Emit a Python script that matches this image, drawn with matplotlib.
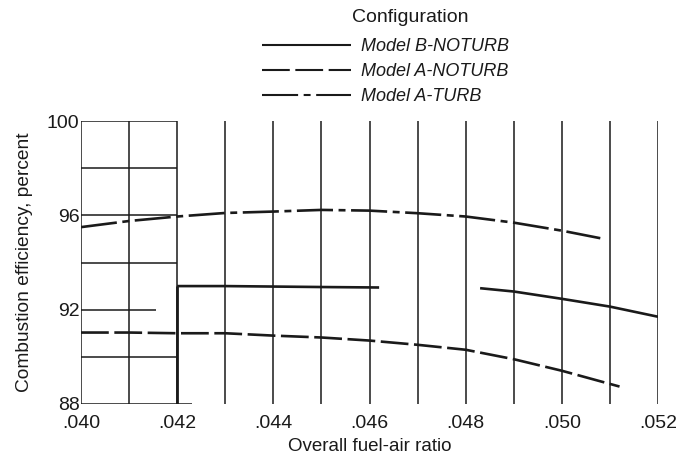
import numpy as np
import matplotlib
matplotlib.use("Agg")
import matplotlib.pyplot as plt

plt.rcParams["font.family"] = ["Liberation Sans", "DejaVu Sans"]
plt.rcParams["lines.scale_dashes"] = False

# fuel-air ratio grid and tick labels
fa_ticks = [0.040, 0.042, 0.044, 0.046, 0.048, 0.050, 0.052]
fa_tick_labels = [".040", ".042", ".044", ".046", ".048", ".050", ".052"]
fa_grid = [0.040, 0.041, 0.042, 0.043, 0.044, 0.045, 0.046,
           0.047, 0.048, 0.049, 0.050, 0.051, 0.052]
eff_ticks = [88, 92, 96, 100]
eff_grid = [88, 90, 92, 94, 96, 98, 100]
eff_grid_end = [0.0423, 0.042, 0.04155, 0.042, 0.042, 0.042, 0.042]

# Model B-NOTURB (solid), broken between .0462 and .0483
b_x = [0.042, 0.043, 0.044, 0.045, 0.0462, np.nan,
       0.0483, 0.049, 0.050, 0.051, 0.052]
b_y = [93.0, 93.0, 92.98, 92.96, 92.94, np.nan,
       92.91, 92.77, 92.46, 92.13, 91.7]

# Model A-NOTURB (long dash)
a_x = [0.040, 0.041, 0.042, 0.043, 0.044, 0.045, 0.046,
       0.047, 0.048, 0.049, 0.050, 0.0512]
a_y = [91.03, 91.03, 91.0, 91.0, 90.9, 90.82, 90.69,
       90.51, 90.3, 89.9, 89.41, 88.74]

# Model A-TURB (long-short dash)
t_x = [0.040, 0.041, 0.042, 0.043, 0.044, 0.045, 0.046,
       0.047, 0.048, 0.049, 0.050, 0.0508]
t_y = [95.5, 95.76, 95.95, 96.1, 96.16, 96.23, 96.2,
       96.09, 95.95, 95.69, 95.35, 95.03]

ink = "#1a1a1a"

fig = plt.figure(figsize=(6.76, 4.59), dpi=100)
ax = fig.add_axes([81 / 676, 1 - 404 / 459, 577 / 676, 283 / 459])
ax.set_xlim(0.040, 0.052)
ax.set_ylim(88, 100)
for s in ax.spines.values():
    s.set_visible(False)

# grid drawn by hand: full vertical lines, horizontal ones only at the left
ax.vlines(fa_grid, 88, 100, color=ink, lw=1.1, zorder=1)
ax.vlines(fa_grid[2], 88, b_y[0], color=ink, lw=2.0, zorder=1)
ax.hlines(eff_grid, fa_grid[0], eff_grid_end, color=ink, lw=1.1, zorder=1)

lw = 1.9
lb, = ax.plot(b_x, b_y, color=ink, lw=lw, solid_capstyle="butt",
              label="Model B-NOTURB")
la, = ax.plot(a_x, a_y, color=ink, lw=lw, label="Model A-NOTURB")
la.set_dashes((20, 4))
lt, = ax.plot(t_x, t_y, color=ink, lw=lw, label="Model A-TURB")
lt.set_dashes((26, 4, 5, 4))

ax.set_xticks(fa_ticks)
ax.set_xticklabels(fa_tick_labels)
ax.set_yticks(eff_ticks)
ax.tick_params(axis="both", length=0, labelsize=14, colors=ink)
ax.tick_params(axis="x", pad=8)
ax.tick_params(axis="y", pad=1)
ax.set_xlabel("Overall fuel-air ratio", fontsize=13.5, color=ink, labelpad=4)
ax.set_ylabel("Combustion efficiency, percent", fontsize=13.8, color=ink,
              labelpad=10)

fig.text(410 / 676, 1 - 17 / 459, "Configuration", fontsize=14, color=ink,
         ha="center", va="center")
leg = fig.legend(loc="upper left", bbox_to_anchor=(255 / 676, 1 - 31 / 459),
                 frameon=False, handlelength=4.9, handletextpad=0.55,
                 labelspacing=0.45, borderaxespad=0,
                 prop={"size": 13, "style": "italic"})
for t, h in zip(leg.get_texts(), leg.legend_handles):
    t.set_color(ink)
    h.set_linewidth(1.5)

fig.savefig("out.png", dpi=100, facecolor="white")
